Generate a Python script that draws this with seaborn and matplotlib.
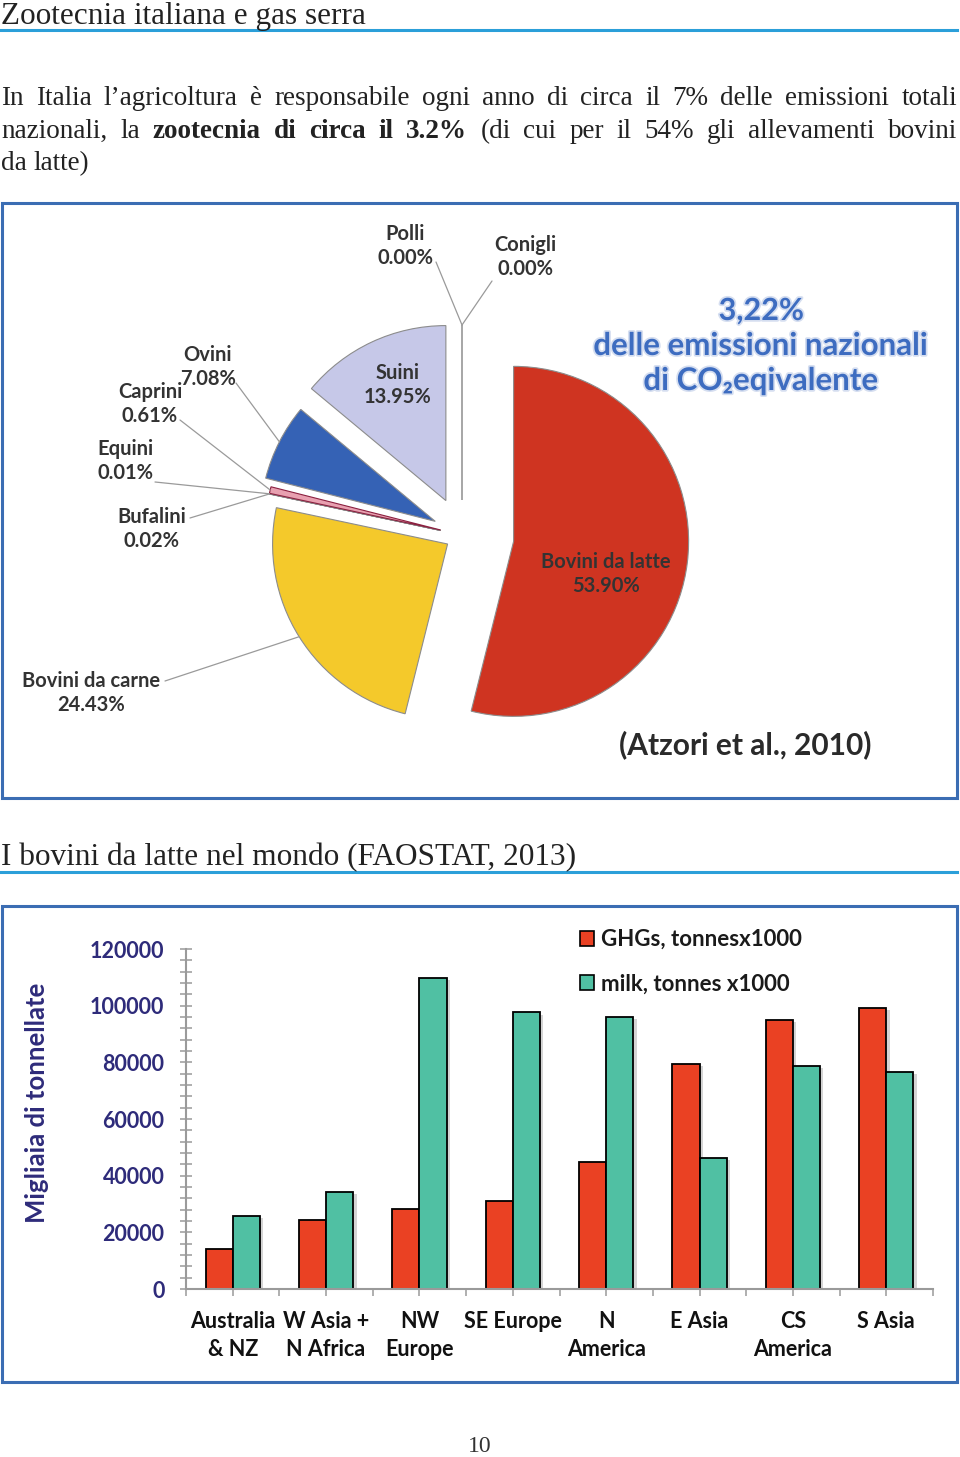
import matplotlib
matplotlib.use("Agg")
import matplotlib.pyplot as plt
import numpy as np
import pandas as pd
import seaborn as sns
from matplotlib.patches import Rectangle, Patch
from matplotlib.lines import Line2D
import matplotlib.patheffects as pe
from matplotlib.ticker import StrMethodFormatter

# ---------------- data ----------------
pie_labels = ["Bovini da latte", "Bovini da carne", "Bufalini", "Equini",
              "Caprini", "Ovini", "Suini", "Polli", "Conigli"]
pie_values = [53.90, 24.43, 0.02, 0.01, 0.61, 7.08, 13.95, 0.00, 0.00]
pie_colors = ["#cf3421", "#f4c92b", "#7a3b5e", "#8f8fc0",
              "#e8a0b0", "#3562b5", "#c6c8e8", "#bdbdbd", "#bdbdbd"]

regions = ["Australia\n& NZ", "W Asia +\nN Africa", "NW\nEurope", "SE Europe",
           "N\nAmerica", "E Asia", "CS\nAmerica", "S Asia"]
ghg = [14000, 24200, 28100, 31200, 44800, 79500, 94800, 99300]
milk = [25800, 34100, 109700, 97600, 96000, 46100, 78600, 76600]
series_names = ["GHGs, tonnesx1000", "milk, tonnes x1000"]
bar_colors = ["#ea4123", "#50c0a3"]

title_text = "Zootecnia italiana e gas serra"
heading2_text = "I bovini da latte nel mondo (FAOSTAT, 2013)"
big_blue = ["3,22%", "delle emissioni nazionali", "di CO\u2082eqivalente"]
source_text = "(Atzori et al., 2010)"
ylabel_text = "Migliaia di tonnellate"

# ---------------- figure ----------------
W, H = 960, 1457
fig = plt.figure(figsize=(9.6, 14.57), dpi=100)
fig.patch.set_facecolor("white")
renderer = fig.canvas.get_renderer()


def fx(x):
    return x / W


def fy(y):
    return 1 - y / H


SERIF = ["Liberation Serif", "DejaVu Serif"]
SANS = ["Lato", "DejaVu Sans"]
BLUE_LINE = "#2b9fd9"
BOX = "#3b6db3"
HSIZE = 22.5

# title
fig.text(fx(1), fy(24), title_text, family=SERIF, size=HSIZE, color="#222222", va="baseline")
fig.add_artist(Line2D([0, 957 / W], [fy(30), fy(30)], color=BLUE_LINE, lw=2.2,
                      transform=fig.transFigure))


def justify_line(words, y, x0, x1, size, justify=True):
    texts = [fig.text(0, fy(y), w, family=SERIF, size=size, weight=wt,
                      va="baseline", color="#222222") for w, wt in words]
    widths = [t.get_window_extent(renderer).width for t in texts]
    if justify and len(texts) > 1:
        gap = (x1 - x0 - sum(widths)) / (len(texts) - 1)
    else:
        sp = fig.text(0, 0, "a a", family=SERIF, size=size)
        sp2 = fig.text(0, 0, "aa", family=SERIF, size=size)
        gap = sp.get_window_extent(renderer).width - sp2.get_window_extent(renderer).width
        sp.remove(); sp2.remove()
    x = x0
    for t, w in zip(texts, widths):
        t.set_x(fx(x))
        x += w + gap


line1 = [(w, "normal") for w in
         "In Italia l\u2019agricoltura \u00e8 responsabile ogni anno di circa il 7% delle emissioni totali".split()]
line2 = ([(w, "normal") for w in "nazionali, la".split()] +
         [(w, "bold") for w in "zootecnia di circa il 3.2%".split()] +
         [(w, "normal") for w in "(di cui per il 54% gli allevamenti bovini".split()])
line3 = [(w, "normal") for w in "da latte)".split()]
PSIZE = 19.5
justify_line(line1, 105, 1, 957, PSIZE)
justify_line(line2, 138, 1, 957, PSIZE)
justify_line(line3, 170, 1, 957, PSIZE, justify=False)

# pie box
fig.add_artist(Rectangle((fx(2), fy(798)), 955 / W, 595 / H, fill=False,
                         edgecolor=BOX, lw=2.2, transform=fig.transFigure))

# ---------------- pie ----------------
ax_p = fig.add_axes([fx(4), fy(796), 951 / W, 592 / H])
explode = [52, 17, 22, 22, 22, 30, 38, 35, 35]
wedges, _ = ax_p.pie(pie_values, colors=pie_colors, startangle=90, counterclock=False,
                     explode=explode, radius=175, center=(462, -535),
                     wedgeprops=dict(edgecolor="#8c8c8c", linewidth=0.8))
wedges[4].set_edgecolor("#8b2040")
for w in wedges[7:]:
    w.set_edgecolor("#a8a8a8")
    w.set_linewidth(1.4)
ax_p.set_xlim(4, 955)
ax_p.set_ylim(-796, -204)
ax_p.set_aspect("auto")
ax_p.axis("off")


def arc_point(w, frac=0.5):
    th = np.deg2rad(w.theta1 + frac * (w.theta2 - w.theta1))
    cx, cy = w.center
    return cx + w.r * np.cos(th), cy + w.r * np.sin(th)


LBL = dict(family=SANS, weight="bold", size=14.5, color="#333333",
           ha="center", va="center", linespacing=1.25)
# label layout: (text centre, leader start) in page px
label_layout = {
    "Bovini da latte": ((606, 574), None),
    "Bovini da carne": ((91, 693), (165, 681)),
    "Bufalini": ((152, 529), (190, 518)),
    "Equini": ((125, 461), (155, 482)),
    "Caprini": ((150, 404), (180, 420)),
    "Ovini": ((208, 367), (236, 383)),
    "Suini": ((398, 385), None),
    "Polli": ((405, 246), (436, 262)),
    "Conigli": ((525, 257), (492, 281)),
}
for i, (name, val) in enumerate(zip(pie_labels, pie_values)):
    (tx, ty), start = label_layout[name]
    ax_p.text(tx, -ty, f"{name}\n{val:.2f}%", **LBL)
    if start is not None:
        ex, ey = arc_point(wedges[i], 0.5)
        ax_p.plot([start[0], ex], [-start[1], ey], color="#9a9a9a", lw=0.9,
                  solid_capstyle="round")

blue_kw = dict(family=SANS, weight="bold", color="#3d6cc0", ha="center", va="center",
               path_effects=[pe.withStroke(linewidth=2.5, foreground="#d5def0")])
ax_p.text(761, -311, big_blue[0], size=22, **blue_kw)
ax_p.text(761, -346, big_blue[1], size=22.5, **blue_kw)
ax_p.text(761, -381, big_blue[2], size=22.5, **blue_kw)
ax_p.text(745, -745, source_text, family=SANS, weight="bold", size=21.5, color="#2a2a2a",
          ha="center", va="center")

# second heading
fig.text(fx(1), fy(865), heading2_text, family=SERIF, size=HSIZE, color="#222222", va="baseline")
fig.add_artist(Line2D([0, 957 / W], [fy(872), fy(872)], color=BLUE_LINE, lw=2.2,
                      transform=fig.transFigure))
fig.add_artist(Rectangle((fx(2), fy(1382)), 955 / W, 476 / H, fill=False,
                         edgecolor=BOX, lw=2.2, transform=fig.transFigure))

# ---------------- bar chart ----------------
ax_b = fig.add_axes([186 / W, fy(1289), 747 / W, 340 / H])
df = pd.DataFrame({
    "region": regions * 2,
    "series": [series_names[0]] * len(regions) + [series_names[1]] * len(regions),
    "value": ghg + milk,
})
sns.barplot(data=df, x="region", y="value", hue="series", palette=bar_colors,
            width=0.58, edgecolor="black", linewidth=1.3, saturation=1,
            errorbar=None, ax=ax_b, legend=True)
if ax_b.get_legend() is not None:
    ax_b.get_legend().remove()
for bar in ax_b.patches:
    bar.set_path_effects([pe.SimplePatchShadow(offset=(2.5, -1.5), shadow_rgbFace="#a0a0a0",
                                               alpha=0.45), pe.Normal()])

ax_b.set_ylim(0, 120000)
ax_b.set_xlim(-0.5, 7.5)
ax_b.set_facecolor("none")
for s in ["top", "right"]:
    ax_b.spines[s].set_visible(False)
for s in ["left", "bottom"]:
    ax_b.spines[s].set_color("#9a9a9a")
    ax_b.spines[s].set_linewidth(1.5)
ax_b.set_yticks(np.arange(0, 120001, 20000))
ax_b.set_yticks(np.arange(0, 120001, 4000), minor=True)
ax_b.yaxis.set_major_formatter(StrMethodFormatter("{x:.0f}"))
ax_b.tick_params(axis="y", which="both", direction="inout", length=9, width=1.1,
                 color="#9a9a9a")
ax_b.tick_params(axis="y", which="major", labelsize=15.5, labelcolor="#2e2b7a", pad=11)
ax_b.set_xticks(np.arange(-0.5, len(regions), 1.0), minor=True)
ax_b.set_xticks(np.arange(len(regions)), labels=regions, family=SANS, fontweight="bold",
                fontsize=15.5, color="#111111", linespacing=1.4)
ax_b.tick_params(axis="x", which="both", direction="out", length=5, width=1.1,
                 color="#9a9a9a")
ax_b.tick_params(axis="x", which="major", pad=11)
for lab in ax_b.get_yticklabels():
    lab.set_family(SANS)
    lab.set_fontweight("bold")
ax_b.set_xlabel("")
ax_b.set_ylabel(ylabel_text, family=SANS, weight="bold", size=18.5, color="#2e2b7a")
ax_b.yaxis.set_label_coords(-0.184, 0.547)

leg_handles = [Patch(facecolor=c, edgecolor="black", linewidth=1.2) for c in bar_colors]
fig.legend(leg_handles, series_names, loc="upper left",
           bbox_to_anchor=(fx(580), fy(929)), frameon=False,
           prop=dict(family=SANS, weight="bold", size=16),
           handlelength=0.65, handleheight=0.65, handletextpad=0.3,
           labelspacing=1.05, borderpad=0, borderaxespad=0, labelcolor="#1a1a1a")

fig.text(fx(480), fy(1447), "10", family=SERIF, size=17, color="#333333",
         ha="center", va="center")

fig.savefig("out.png", dpi=100, facecolor="white")
